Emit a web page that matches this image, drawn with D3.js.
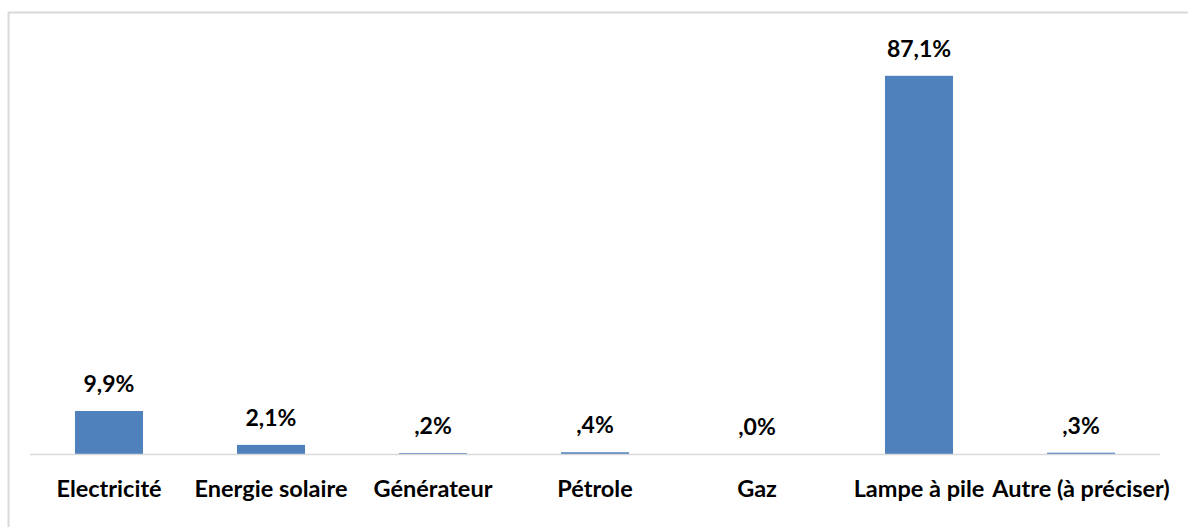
<!DOCTYPE html>
<html><head><meta charset="utf-8">
<script src="https://cdn.jsdelivr.net/npm/d3@7"></script>
<style>html,body{margin:0;padding:0;background:#fff;}svg{display:block;}</style>
</head><body>
<svg id="c" width="1188" height="527"></svg>
<script>
const categories = ["Electricité","Energie solaire","Générateur","Pétrole","Gaz","Lampe à pile","Autre (à préciser)"];
const values = [9.9, 2.1, 0.2, 0.4, 0.0, 87.1, 0.3];
const valueLabels = ["9,9%","2,1%",",2%",",4%",",0%","87,1%",",3%"];

const svg = d3.select("#c");
svg.append("rect").attr("x",8.5).attr("y",12.5).attr("width",1200).attr("height",600)
  .attr("fill","none").attr("stroke","#d9d9d9").attr("stroke-width",2);

const x = d3.scaleBand().domain(categories).range([28,1162]).paddingInner(0.58).paddingOuter(0.29);
const y = d3.scaleLinear().domain([0,90]).range([454, 454-90*4.342]);

svg.append("g").selectAll("rect").data(values).join("rect")
  .attr("x",(d,i)=>x(categories[i]))
  .attr("width",x.bandwidth())
  .attr("y",d=>y(d))
  .attr("height",d=>Math.max(0, y(0)-y(d)))
  .attr("fill","#4f81bd");

svg.append("line").attr("x1",30).attr("x2",1160).attr("y1",454.5).attr("y2",454.5)
  .attr("stroke","#d9d9d9").attr("stroke-width",1.5);

svg.append("g").selectAll("text").data(values).join("text")
  .attr("x",(d,i)=>x(categories[i])+x.bandwidth()/2)
  .attr("y",d=>y(d)-19)
  .attr("text-anchor","middle")
  .attr("font-family","Lato, 'Open Sans', sans-serif")
  .attr("font-weight","bold").attr("font-size",23).attr("fill","#000")
  .text((d,i)=>valueLabels[i]);

const xAxis = d3.axisBottom(x).tickSize(0).tickPadding(0);
const ax = svg.append("g").attr("transform","translate(0,454)").call(xAxis);
ax.select(".domain").remove();
ax.selectAll("text").attr("y",43).attr("dy",0)
  .attr("font-family","Lato, 'Open Sans', sans-serif")
  .attr("font-weight","bold").attr("font-size",23.5).attr("fill","#000");
</script>
</body></html>
